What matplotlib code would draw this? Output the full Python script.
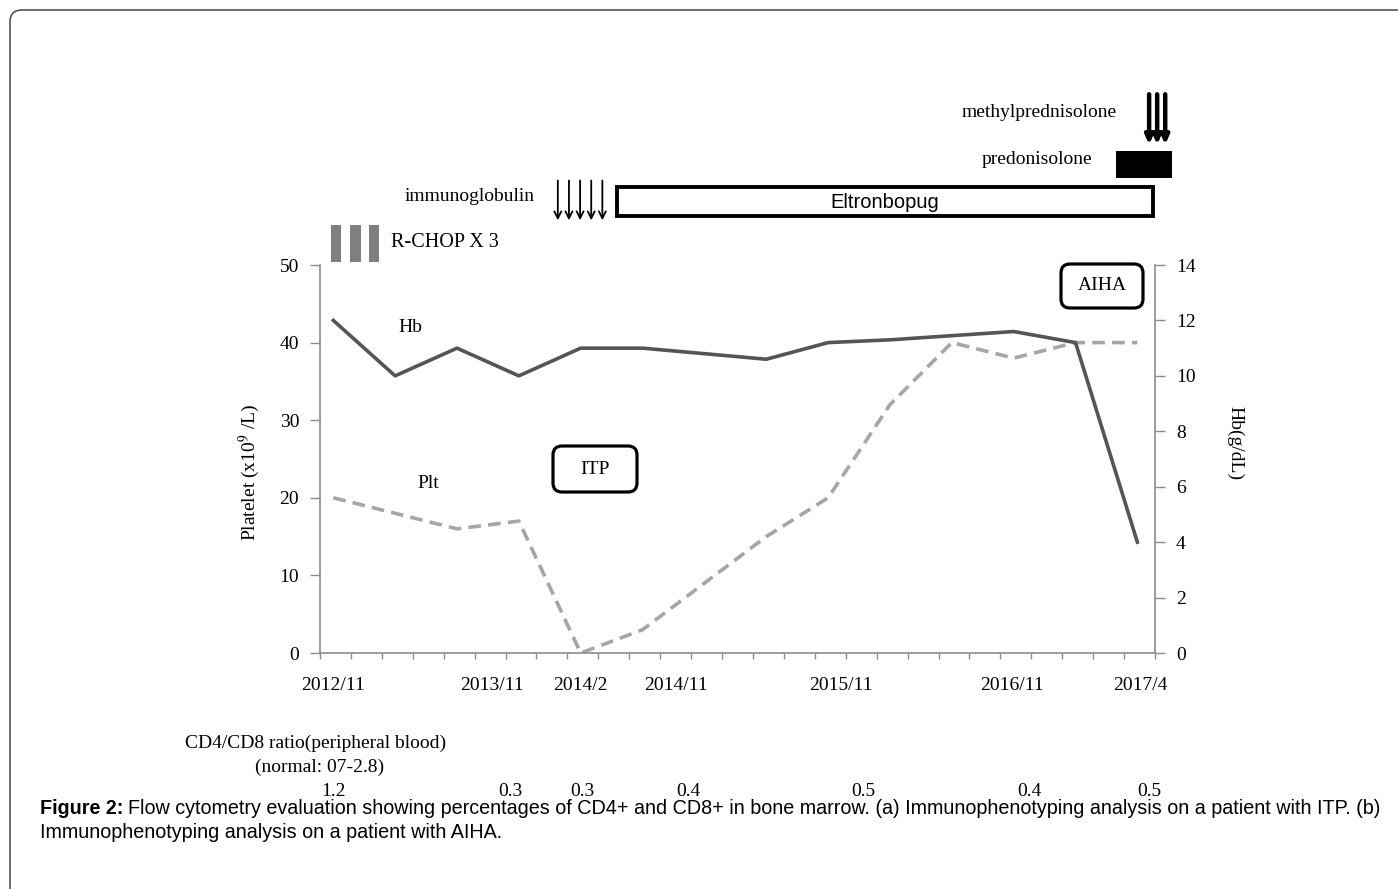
import matplotlib
matplotlib.use("Agg")
import matplotlib.pyplot as plt
from matplotlib.patches import Rectangle, FancyBboxPatch
import numpy as np

# data (one point per visit, index 0..13)
visits = list(range(14))
hb = [12.0, 10.0, 11.0, 10.0, 11.0, 11.0, 10.8, 10.6, 11.2, 11.3, 11.45, 11.6, 11.2, 4.0]
plt_count = [20, 18, 16, 17, 0, 3, 9, 15, 20, 32, 40, 38, 40, 40]

date_labels = ["2012/11", "2013/11", "2014/2", "2014/11", "2015/11", "2016/11", "2017/4"]
date_pos = [0.0, 2.56, 4.0, 5.54, 8.21, 10.98, 13.05]

cd4cd8 = ["1.2", "0.3", "0.3", "0.4", "0.5", "0.4", "0.5"]
cd4cd8_pos = [0.0, 2.86, 4.03, 5.74, 8.57, 11.25, 13.2]

serif = "Liberation Serif"
fs = 14
W, H = 1398, 889

fig = plt.figure(figsize=(W / 100, H / 100), dpi=100)

# rounded frame round the whole figure (pixel coords)
frame = fig.add_axes([0, 0, 1, 1])
frame.set_xlim(0, W)
frame.set_ylim(H, 0)
frame.axis("off")
frame.add_patch(FancyBboxPatch((10, 10), 1430, 920, boxstyle="round,pad=0,rounding_size=12",
                               fc="none", ec="#555555", lw=1.2))

ax = fig.add_axes([320 / W, 1 - 653 / H, 835 / W, 388 / H])
ax2 = ax.twinx()

ax.plot(visits, plt_count, color="#a6a6a6", lw=2.6, ls=(0, (3.5, 2)))
ax2.plot(visits, hb, color="#555555", lw=2.6)

ax.set_xlim(-0.215, 13.285)
ax.set_ylim(0, 50)
ax2.set_ylim(0, 14)
ax.set_yticks(range(0, 51, 10))
ax2.set_yticks(range(0, 15, 2))
ax.set_xticks(np.arange(-0.215, 13.3, 0.5))
ax.set_xticklabels([])

for a in (ax, ax2):
    for s in a.spines.values():
        s.set_color("#8c8c8c")
        s.set_linewidth(1.2)
    a.spines["top"].set_visible(False)
ax.spines["right"].set_visible(False)
ax2.spines["left"].set_visible(False)
ax2.spines["bottom"].set_visible(False)
ax.tick_params(axis="y", direction="out", length=7, width=1, color="#8c8c8c",
               labelsize=fs, pad=8)
ax.tick_params(axis="x", direction="out", length=4, width=1, color="#8c8c8c")
ax2.tick_params(axis="y", direction="out", length=7, width=1, color="#8c8c8c",
                labelsize=fs, pad=8)
for lab in ax.get_yticklabels() + ax2.get_yticklabels():
    lab.set_family(serif)

# date labels under the axis
for lbl, x in zip(date_labels, date_pos):
    ax.text(x, -0.085, lbl, transform=ax.get_xaxis_transform(), ha="center", va="center",
            family=serif, fontsize=fs)

fig.text(249 / W, 1 - 472 / H, r"Platelet (x10$^9$ /L)", rotation=90, ha="center", va="center",
         family=serif, fontsize=fs, math_fontfamily="stix")
fig.text(1235 / W, 1 - 443 / H, "Hb(g/dL)", rotation=270, ha="center", va="center",
         family=serif, fontsize=fs)

# labels inside the plot
ax.text(1.25, 42.0, "Hb", family=serif, fontsize=fs, ha="center", va="center")
ax.text(1.53, 21.8, "Plt", family=serif, fontsize=fs, ha="center", va="center")
for (x0, y0, x1, y1), s in [((553, 446, 637, 492), "ITP"), ((1061, 264, 1143, 308), "AIHA")]:
    ax2.add_patch(FancyBboxPatch((x0, y0), x1 - x0, y1 - y0,
                                 boxstyle="round,pad=0,rounding_size=9",
                                 transform=frame.transData, fc="white", ec="black", lw=2.3,
                                 clip_on=False, zorder=3))
    ax2.text((x0 + x1) / 2, (y0 + y1) / 2, s, transform=frame.transData, family=serif,
             fontsize=fs, ha="center", va="center", zorder=4)

# treatments above the plot (x in visit units, y in axes fraction)
tr = ax.get_xaxis_transform()
for x0 in [-0.04, 0.27, 0.57]:
    ax.add_patch(Rectangle((x0, 1.008), 0.17, 0.095, transform=tr, fc="#7f7f7f", ec="none",
                           clip_on=False))
ax.text(0.93, 1.057, "R-CHOP X 3", transform=tr, family=serif, fontsize=14.5, ha="left",
        va="center")

ax.text(3.26, 1.177, "immunoglobulin", transform=tr, family=serif, fontsize=fs, ha="right",
        va="center")
for x in [3.63, 3.81, 3.99, 4.17, 4.35]:
    ax.annotate("", xy=(x, 1.108), xytext=(x, 1.225), xycoords=tr, textcoords=tr,
                arrowprops=dict(arrowstyle="->,head_length=0.5,head_width=0.25", lw=1.3,
                                color="black"), annotation_clip=False)

ax.add_patch(Rectangle((4.59, 1.126), 13.25 - 4.59, 0.075, transform=tr, fc="white",
                       ec="black", lw=2.8, clip_on=False))
ax.text((4.59 + 13.25) / 2, 1.161, "Eltronbopug", transform=tr, family="Liberation Sans",
        fontsize=14.5, ha="center", va="center")

ax.text(12.27, 1.272, "predonisolone", transform=tr, family=serif, fontsize=fs, ha="right",
        va="center")
ax.add_patch(Rectangle((12.65, 1.224), 0.91, 0.07, transform=tr, fc="black", ec="none",
                       clip_on=False))

ax.text(12.67, 1.394, "methylprednisolone", transform=tr, family=serif, fontsize=fs,
        ha="right", va="center")
for x in [13.19, 13.32, 13.45]:
    ax.annotate("", xy=(x, 1.31), xytext=(x, 1.44), xycoords=tr, textcoords=tr,
                arrowprops=dict(arrowstyle="-|>,head_length=0.5,head_width=0.22", lw=3.2,
                                color="black", shrinkA=0, shrinkB=0),
                annotation_clip=False)

# CD4/CD8 ratio rows
fig.text(316 / W, 1 - 743 / H, "CD4/CD8 ratio(peripheral blood)", ha="center", va="center",
         family=serif, fontsize=fs)
fig.text(320 / W, 1 - 767 / H, "(normal: 07-2.8)", ha="center", va="center",
         family=serif, fontsize=fs)
for s, x in zip(cd4cd8, cd4cd8_pos):
    ax.text(x, -0.357, s, transform=tr, ha="center", va="center", family=serif, fontsize=fs)

# caption
cap_y1 = 1 - 809 / H
cap_y2 = 1 - 832 / H
t1 = fig.text(40 / W, cap_y1, "Figure 2:", family="Liberation Sans", fontsize=14.2,
              weight="bold", va="center")
fig.canvas.draw()
bb = t1.get_window_extent()
fig.text((bb.x1 + 5) / W, cap_y1,
         "Flow cytometry evaluation showing percentages of CD4+ and CD8+ in bone marrow. "
         "(a) Immunophenotyping analysis on a patient with ITP. (b)",
         family="Liberation Sans", fontsize=14.2, va="center")
fig.text(40 / W, cap_y2, "Immunophenotyping analysis on a patient with AIHA.",
         family="Liberation Sans", fontsize=14.2, va="center")

fig.savefig("out.png", dpi=100)
